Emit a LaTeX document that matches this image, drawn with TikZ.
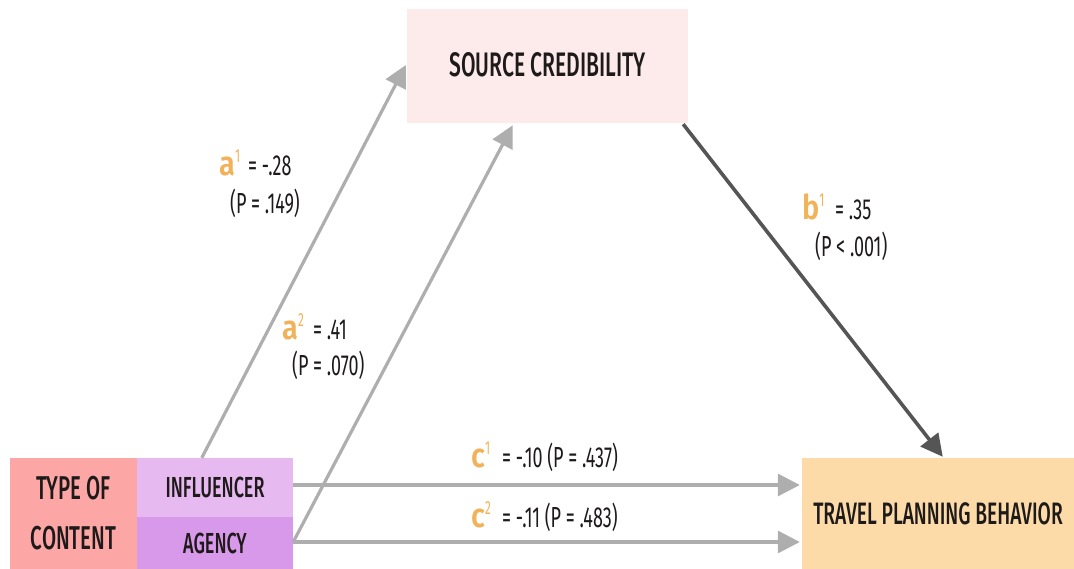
\documentclass[tikz,border=0pt]{standalone}
\usepackage{fontspec}
\newfontfamily\cond{Fira Sans Medium}[FakeStretch=0.62]
\newfontfamily\condl{Fira Sans}[FakeStretch=0.62]
\newfontfamily\condb{Fira Sans SemiBold}[FakeStretch=0.85]
\usetikzlibrary{arrows.meta,calc}
\definecolor{scfill}{HTML}{FDEBEC}
\definecolor{tocfill}{HTML}{FCA7A6}
\definecolor{inffill}{HTML}{E7B9F1}
\definecolor{agfill}{HTML}{D999EA}
\definecolor{tpbfill}{HTML}{FDDBA8}
\definecolor{lgray}{HTML}{AEAEAE}
\definecolor{dgray}{HTML}{555555}
\definecolor{coef}{HTML}{F1B25A}
\definecolor{txt}{HTML}{1E1A1A}
\tikzset{
  box/.style={draw=none,inner sep=0pt,text=txt,font=\cond\fontsize{34}{36}\selectfont},
  lab/.style={inner sep=0pt,text=txt,font=\condl\fontsize{29}{30}\selectfont,anchor=base west},
  cfl/.style={inner sep=0pt,text=coef,anchor=base west},
  garrow/.style={draw=lgray,line width=3.2pt,-{Triangle[length=22pt,width=22pt]}},
  darrow/.style={draw=dgray,line width=3.6pt,-{Triangle[length=22pt,width=22pt]}},
}
\newcommand{\cf}[2]{{\condb\fontsize{34}{34}\selectfont #1}\raisebox{13pt}{\condl\fontsize{19}{19}\selectfont #2}}
\begin{document}
\begin{tikzpicture}[x=1pt,y=-1pt]
\useasboundingbox (0,0) rectangle (1074,569);
\node[box,fill=scfill,minimum width=281pt,minimum height=114pt] (sc) at (547.5,66) {\raisebox{3pt}{SOURCE CREDIBILITY}};
\node[box,fill=tocfill,minimum width=127pt,minimum height=111pt,align=center,font=\cond\fontsize{33}{50}\selectfont] (toc) at (73.5,513.5) {TYPE OF\\CONTENT};
\node[box,fill=inffill,minimum width=156pt,minimum height=59pt,font=\cond\fontsize{29}{30}\selectfont] (inf) at (215,487.5) {INFLUENCER};
\node[box,fill=agfill,minimum width=156pt,minimum height=52pt,font=\cond\fontsize{29}{30}\selectfont] (ag) at (215,543) {AGENCY};
\node[box,fill=tpbfill,minimum width=272pt,minimum height=111pt,font=\cond\fontsize{31}{32}\selectfont] (tpb) at (938,513.5) {TRAVEL PLANNING BEHAVIOR};
% connectors
\coordinate (a1s) at ($(inf.north west)+(65,0)$);
\coordinate (a1e) at ($(sc.west)+(-1,-1)$);
\draw[garrow] (a1s) -- (a1e);
\coordinate (a2s) at ($(ag.east)+(0,-1)$);
\coordinate (a2e) at ($(sc.south west)+(106,2)$);
\draw[garrow] (a2s) -- (a2e);
\coordinate (bs) at ($(sc.south east)+(-5,1)$);
\coordinate (be) at ($(tpb.north west)+(141,-1)$);
\draw[darrow] (bs) -- (be);
\coordinate (c1s) at (inf.east |- 0,485);
\coordinate (c1e) at ($(tpb.west |- c1s)+(-2,0)$);
\draw[garrow] (c1s) -- (c1e);
\coordinate (c2s) at (ag.east |- 0,542);
\coordinate (c2e) at ($(tpb.west |- c2s)+(-2,0)$);
\draw[garrow] (c2s) -- (c2e);
% labels
\node[cfl] (ka1) at (219,176) {\cf{a}{1}};
\node[lab] (la1) at (248,176) {= -.28};
\node[lab] (la1p) at (230,214) {(P = .149)};
\node[cfl] (ka2) at (282,340) {\cf{a}{2}};
\node[lab] (la2) at (313,340) {= .41};
\node[lab] (la2p) at (292,375) {(P = .070)};
\node[cfl] (kb) at (802,220) {\cf{b}{1}};
\node[lab] (lb) at (835,220) {= .35};
\node[lab] (lbp) at (815,257) {(P < .001)};
\node[cfl] (kc1) at (471,467) {\cf{c}{1}};
\node[lab] (lc1) at (502,467) {= -.10 (P = .437)};
\node[cfl] (kc2) at (471,527) {\cf{c}{2}};
\node[lab] (lc2) at (502,527) {= -.11 (P = .483)};
\end{tikzpicture}
\end{document}
